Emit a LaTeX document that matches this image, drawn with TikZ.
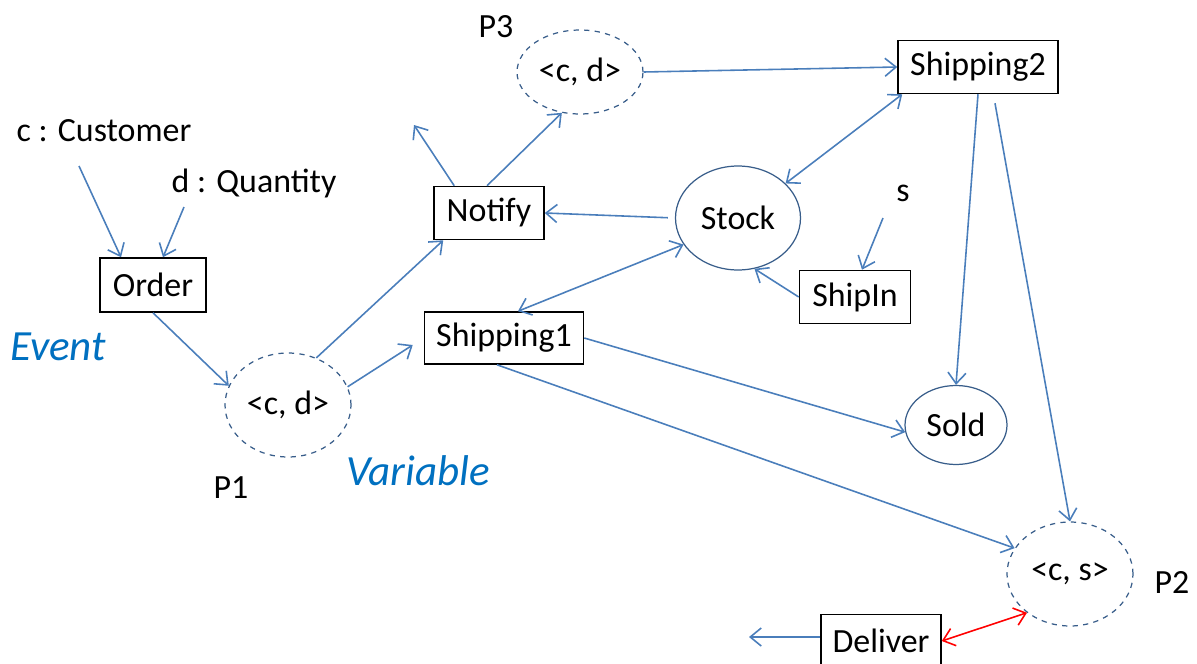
\documentclass[tikz,border=0pt]{standalone}
\usepackage{fontspec}
\setmainfont{Carlito}
\usepackage{tikz}
\usetikzlibrary{shapes.geometric, arrows.meta, positioning, calc}
\definecolor{linkblue}{HTML}{4A7EBB}
\definecolor{rimblue}{HTML}{385D8A}
\definecolor{wordblue}{HTML}{0070C0}
\tikzset{
    eventbox/.style={rectangle, draw, line width=0.9pt, inner sep=0pt, font=\fontsize{19.3}{23}\selectfont},
    store/.style={ellipse, draw=rimblue, line width=0.7pt, inner sep=0pt, font=\fontsize{19.3}{23}\selectfont},
    token/.style={ellipse, draw=rimblue, dashed, line width=0.7pt, inner sep=0pt, font=\fontsize{19.3}{23}\selectfont},
    tag/.style={font=\fontsize{19.3}{23}\selectfont},
    kind/.style={font=\fontsize{24.5}{28}\selectfont\itshape, text=wordblue},
    arrow/.style={-{Straight Barb[length=2.2mm, width=3.6mm]}, draw=linkblue, line width=0.9pt},
    biarrow/.style={{Straight Barb[length=2.2mm, width=3.6mm]}-{Straight Barb[length=2.2mm, width=3.6mm]}, draw=linkblue, line width=0.9pt},
}

\begin{document}
\begin{tikzpicture}[x=0.02cm, y=-0.02cm]
    \useasboundingbox (0,0) rectangle (1197,663);

    % Labels
    \node[tag] (cust) at (104,131) {c : Customer};
    \node[tag] (qty) at (254,183) {d : Quantity};
    \node[tag] (sin) at (903,193) {s};
    \node[kind] (event) at (58,347) {Event};
    \node[kind] (variable) at (418,471) {Variable};

    % Events
    \node[eventbox, minimum width=2.12cm, minimum height=1.08cm] (order) at (153,285) {Order};
    \node[eventbox, minimum width=2.2cm, minimum height=1.06cm] (notify) at (489,213) {Notify};
    \node[eventbox, minimum width=3.18cm, minimum height=1.04cm] (ship1) at (504,338) {Shipping1};
    \node[eventbox, minimum width=3.2cm, minimum height=1.06cm] (ship2) at (978,67) {Shipping2};
    \node[eventbox, minimum width=2.22cm, minimum height=1.06cm] (shipin) at (855,297) {ShipIn};
    \node[eventbox, minimum width=2.4cm, minimum height=1.06cm] (deliver) at (881,641) {Deliver};

    % Places
    \node[token, minimum width=2.52cm, minimum height=2.08cm] (p1) at (288,405) {<c, d>};
    \node[tag] (p1lab) at (231,488) {P1};
    \node[token, minimum width=2.52cm, minimum height=1.68cm] (p3) at (580,72) {<c, d>};
    \node[tag] (p3lab) at (496,27) {P3};
    \node[token, minimum width=2.52cm, minimum height=2.08cm] (p2) at (1070,574) {<c, s>};
    \node[tag] (p2lab) at (1172,582) {P2};
    \node[store, minimum width=2.5cm, minimum height=2.08cm] (stock) at (738,218) {Stock};
    \node[store, minimum width=2.04cm, minimum height=1.58cm] (sold) at (956,425) {Sold};

    % Free ends
    \coordinate (nfree) at (414,125);
    \coordinate (dfree) at (749,637);

    % Arrows
    \draw[arrow] ([shift={(-25,35)}]cust.center) -- ([shift={(-32,0)}]order.north);
    \draw[arrow] ([shift={(-70,24)}]qty.center) -- ([shift={(10,0)}]order.north);
    \draw[arrow] (order.south) -- (p1.162);
    \draw[arrow] (p1.59) -- ([shift={(10,0)}]notify.south west);
    \draw[arrow] (p1.17) -- ([shift={(-11,7)}]ship1.west);
    \draw[arrow] ([shift={(21,0)}]notify.north west) -- (nfree);
    \draw[arrow] ([shift={(-2,0)}]notify.north) -- (p3.-114);
    \draw[arrow] (p3.east) -- (ship2.west);
    \draw[arrow, shorten <=0.14cm] (stock.west) -- (notify.east);
    \draw[biarrow] (stock.36) -- ([shift={(5,0)}]ship2.south west);
    \draw[arrow] ([shift={(-20,25)}]sin.center) -- ([shift={(7,0)}]shipin.north);
    \draw[arrow] (shipin.west) -- (stock.-72);
    \draw[biarrow] (stock.206) -- ([shift={(14,0)}]ship1.north);
    \draw[arrow] (ship1.east) -- (sold.188);
    \draw[arrow] (ship2.south) -- (sold.north);
    \draw[arrow] ([shift={(-7,0)}]ship1.south) -- (p2.155);
    \draw[arrow] ([shift={(17,9)}]ship2.south) -- (p2.north);
    \draw[biarrow, draw=red] (deliver.east) -- (p2.-138);
    \draw[arrow] ([shift={(0,-4)}]deliver.west) -- (dfree);
\end{tikzpicture}
\end{document}
